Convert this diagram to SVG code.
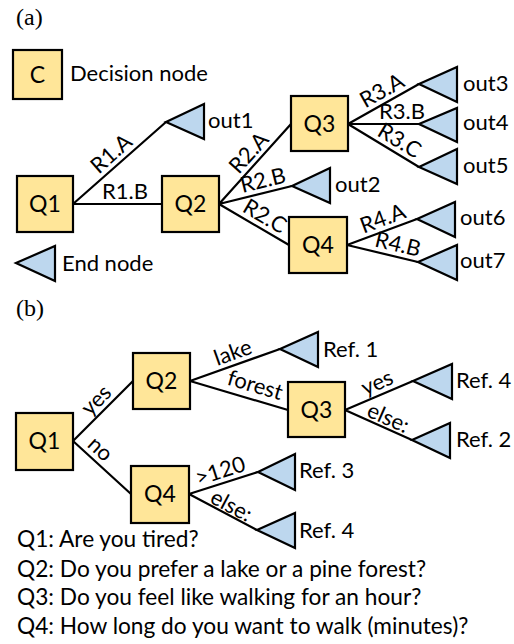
<svg xmlns="http://www.w3.org/2000/svg" width="514" height="644" viewBox="0 0 514 644">
<style>
text{font-family:Lato,"Liberation Sans",sans-serif;font-size:22px;fill:#000}
.ser{font-family:"Liberation Serif",serif;font-size:24px}
.box{fill:#FFE699;stroke:#000;stroke-width:2.2}
.tri{fill:#BDD7EE;stroke:#000;stroke-width:2.2;stroke-linejoin:miter}
.ln{stroke:#000;stroke-width:2.2;fill:none}
.c{text-anchor:middle;font-size:23px}
.lb{font-size:22px;text-anchor:middle}
.q{font-size:22.7px}
</style>
<rect width="514" height="644" fill="#fff"/>
<text class="ser" x="16" y="25">(a)</text>
<text class="ser" x="16" y="316">(b)</text>
<g id="legend">
<rect class="box" x="13" y="50" width="49" height="49"/>
<text class="c" x="37.5" y="83">C</text>
<text x="70" y="81">Decision node</text>
<polygon class="tri" points="16,263 55,246 55,281"/>
<text x="62" y="271">End node</text>
</g>
<g id="connectors-a">
<path class="ln" d="M73,204 L166,122 M73,204 L162,204 M219,204 L291,124 M219,204 L292,186 M219,204 L289,245 M348,124 L419,84 M348,124 L419,124 M348,124 L419,167 M347,245 L417,219 M347,245 L418,262"/>
<text class="lb" transform="translate(119.5,163) rotate(-41.4)" x="0" y="-5">R1.A</text>
<text class="lb" transform="translate(125,204)" x="0" y="-5">R1.B</text>
<text class="lb" transform="translate(258,161) rotate(-48)" x="0" y="-5">R2.A</text>
<text class="lb" transform="translate(266,192.4) rotate(-13.9)" x="0" y="-5">R2.B</text>
<text class="lb" transform="translate(258.5,227) rotate(30.4)" x="0" y="-5">R2.C</text>
<text class="lb" transform="translate(388,101.5) rotate(-29.4)" x="0" y="-5">R3.A</text>
<text class="lb" transform="translate(402,124)" x="0" y="-5">R3.B</text>
<text class="lb" transform="translate(393,151.3) rotate(31.2)" x="0" y="-5">R3.C</text>
<text class="lb" transform="translate(387,230.2) rotate(-20.4)" x="0" y="-5">R4.A</text>
<text class="lb" transform="translate(395,256.4) rotate(13.5)" x="0" y="-5">R4.B</text>
</g>
<g id="a-Q1"><rect class="box" x="17" y="176" width="56" height="56"/><text class="c" x="45" y="212">Q1</text></g>
<g id="a-Q2"><rect class="box" x="162" y="176" width="57" height="56"/><text class="c" x="190.5" y="212">Q2</text></g>
<g id="a-Q3"><rect class="box" x="291" y="96" width="57" height="55"/><text class="c" x="319.5" y="131.5">Q3</text></g>
<g id="a-Q4"><rect class="box" x="289" y="217" width="58" height="56"/><text class="c" x="318" y="253">Q4</text></g>
<g id="a-out1"><polygon class="tri" points="166,122 204,104 204,139"/><text x="208" y="128">out1</text></g>
<g id="a-out2"><polygon class="tri" points="292,186 330,168 330,203"/><text x="335" y="192">out2</text></g>
<g id="a-out3"><polygon class="tri" points="419,84 457,67 457,102"/><text x="463" y="91">out3</text></g>
<g id="a-out4"><polygon class="tri" points="419,124 457,108 457,142"/><text x="463" y="130">out4</text></g>
<g id="a-out5"><polygon class="tri" points="419,167 457,149 457,184"/><text x="463" y="173">out5</text></g>
<g id="a-out6"><polygon class="tri" points="417,219 455,202 455,237"/><text x="460" y="225">out6</text></g>
<g id="a-out7"><polygon class="tri" points="418,262 457,245 457,280"/><text x="460" y="268">out7</text></g>
<g id="connectors-b">
<path class="ln" d="M73,441 L133,381 M73,441 L131,494 M190,381 L280,349 M190,381 L288,410 M345,410 L413,381 M345,410 L412,440 M189,494 L258,472 M189,494 L257,530"/>
<text class="lb" transform="translate(105,409) rotate(-45)" x="0" y="-5">yes</text>
<text class="lb" transform="translate(92,458) rotate(42.4)" x="0" y="-5">no</text>
<text class="lb" transform="translate(237,364.2) rotate(-19.6)" x="0" y="-5">lake</text>
<text class="lb" transform="translate(251,399) rotate(16.5)" x="0" y="-7">forest</text>
<text class="lb" transform="translate(382,394) rotate(-23.1)" x="0" y="-5">yes</text>
<text class="lb" transform="translate(384,427.4) rotate(24.1)" x="0" y="-3">else:</text>
<text class="lb" transform="translate(224,482.8) rotate(-17.7)" x="0" y="-5">&gt;120</text>
<text class="lb" transform="translate(227,514) rotate(27.9)" x="0" y="-2">else:</text>
</g>
<g id="b-Q1"><rect class="box" x="16" y="413" width="57" height="57"/><text class="c" x="44.5" y="449">Q1</text></g>
<g id="b-Q2"><rect class="box" x="133" y="353" width="57" height="56"/><text class="c" x="161.5" y="389">Q2</text></g>
<g id="b-Q3"><rect class="box" x="288" y="382" width="57" height="55"/><text class="c" x="316.5" y="417.5">Q3</text></g>
<g id="b-Q4"><rect class="box" x="131" y="466" width="58" height="57"/><text class="c" x="160" y="502">Q4</text></g>
<g id="b-ref1"><polygon class="tri" points="280,349 318,332 318,367"/><text x="323" y="357">Ref. 1</text></g>
<g id="b-ref4a"><polygon class="tri" points="413,381 452,364 452,399"/><text x="456" y="388">Ref. 4</text></g>
<g id="b-ref2"><polygon class="tri" points="412,440 450,423 450,458"/><text x="456" y="447">Ref. 2</text></g>
<g id="b-ref3"><polygon class="tri" points="258,472 295,454 295,490"/><text x="299" y="478">Ref. 3</text></g>
<g id="b-ref4b"><polygon class="tri" points="257,530 295,513 295,548"/><text x="299" y="538">Ref. 4</text></g>
<g id="questions">
<text class="q" x="17" y="547">Q1: Are you tired?</text>
<text class="q" x="17" y="577">Q2: Do you prefer a lake or a pine forest?</text>
<text class="q" x="17" y="605">Q3: Do you feel like walking for an hour?</text>
<text class="q" x="17" y="634">Q4: How long do you want to walk (minutes)?</text>
</g>
</svg>
